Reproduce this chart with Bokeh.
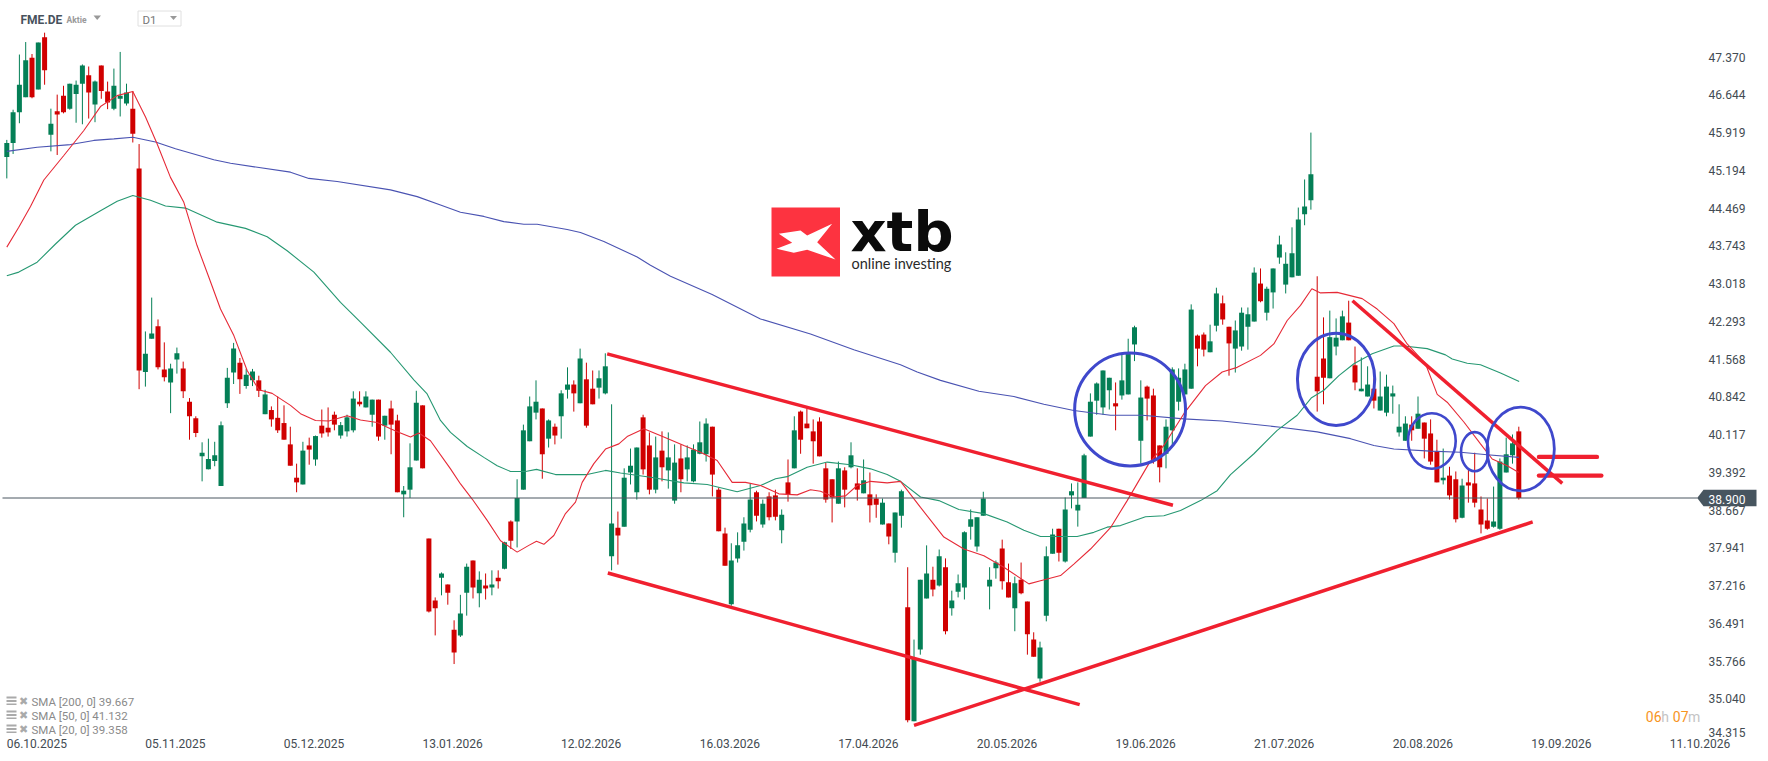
from bokeh.plotting import figure
from bokeh.models import FixedTicker, LinearAxis, NumeralTickFormatter, Range1d
from bokeh.core.properties import value
from bokeh.embed import file_html
from bokeh.resources import INLINE

opens = [45.45,45.72,46.31,46.60,47.36,46.75,47.75,45.88,46.33,46.63,
46.38,46.66,46.86,47.02,46.46,47.21,46.71,46.38,46.57,46.48,
46.38,45.23,41.32,41.96,42.20,41.37,41.12,41.56,41.39,40.75,
40.43,39.70,39.45,39.61,39.13,40.72,41.31,41.50,41.05,41.16,
41.16,40.51,40.59,40.44,40.34,39.93,39.29,39.16,39.91,39.64,
40.29,40.25,40.50,40.10,40.18,40.20,40.75,40.64,40.50,40.79,
40.29,40.62,40.39,38.97,39.06,39.62,40.68,38.12,36.93,37.37,
37.24,36.37,36.26,37.08,37.70,37.07,37.22,37.18,37.37,37.54,
38.45,38.45,39.06,39.99,40.54,40.62,40.04,40.27,40.47,40.98,
41.08,40.72,41.18,41.00,41.02,40.91,37.78,38.33,38.35,39.39,
39.01,40.45,39.91,39.06,39.81,39.43,38.85,39.66,39.45,39.22,
39.75,39.74,40.27,39.06,38.22,36.86,37.74,38.06,38.29,39.01,
38.39,38.93,38.95,38.28,39.20,39.47,40.56,40.33,40.18,40.37,
39.47,39.26,38.79,39.43,39.49,39.18,38.99,38.97,38.89,38.39,
38.41,37.85,38.56,36.80,34.61,35.99,36.97,37.33,37.22,37.57,
36.78,37.10,37.18,38.35,37.97,38.56,37.20,37.55,37.93,37.28,
36.78,37.33,36.91,36.18,35.43,36.64,37.83,38.31,37.68,38.95,
38.66,38.90,40.08,40.77,40.64,40.97,40.72,40.87,40.89,41.85,
40.00,41.04,40.87,39.91,39.75,40.20,40.75,40.89,41.00,42.02,
42.04,41.70,42.21,42.64,42.19,41.77,41.81,42.19,42.29,43.02,
42.46,42.85,43.52,43.00,43.14,43.17,44.35,44.62,41.23,41.58,
41.20,41.81,41.93,42.27,41.45,40.95,40.85,41.00,40.58,40.54,
40.85,40.16,40.00,40.31,40.23,40.35,40.14,39.79,39.24,39.33,
39.26,38.52,39.20,39.18,38.68,38.47,38.35,38.31,39.39,39.72,
40.18]
closes = [45.72,46.31,46.84,47.31,46.60,47.65,47.12,46.09,46.27,46.31,
46.86,46.84,47.21,46.69,46.90,46.72,46.50,46.82,46.63,46.69,
45.90,41.35,41.67,42.06,41.41,41.22,41.39,41.68,40.95,40.47,
40.15,39.77,39.65,39.72,40.30,41.21,41.77,41.18,41.27,41.33,
40.96,40.89,40.41,40.20,40.02,39.52,39.20,39.81,39.83,40.09,
40.14,40.16,40.31,40.30,40.45,40.81,40.70,40.85,40.79,40.08,
40.48,40.31,39.01,39.04,39.49,40.73,39.47,36.72,36.78,37.45,
37.08,35.93,36.68,37.58,37.18,37.33,37.16,37.24,37.30,38.05,
38.08,38.90,40.20,40.66,40.75,39.74,40.39,40.10,40.91,41.08,
40.91,41.58,40.29,40.70,41.20,41.43,38.41,38.18,39.29,39.52,
39.87,39.45,39.06,39.68,39.49,39.68,39.58,39.26,39.68,39.83,
39.97,40.33,39.35,38.26,37.60,37.70,37.99,38.41,38.87,38.56,
38.79,38.53,38.54,38.58,38.97,40.20,40.02,40.24,39.99,39.70,
38.87,38.91,39.47,39.06,39.72,39.06,39.24,38.76,38.77,38.81,
38.16,38.62,39.03,34.63,35.81,37.33,37.45,37.14,37.78,36.34,
36.93,37.26,38.24,38.49,38.53,38.89,37.33,37.66,37.30,36.99,
37.26,37.07,36.28,35.85,36.03,37.78,38.20,37.85,38.68,39.03,
38.77,39.72,40.75,41.10,41.35,41.21,40.66,41.16,41.70,42.18,
40.83,40.81,39.62,39.49,40.27,41.37,41.21,41.37,42.52,41.77,
41.75,41.91,42.83,42.33,41.87,42.12,42.46,42.43,43.23,42.68,
42.92,43.31,43.77,43.40,43.60,44.25,44.50,45.12,40.95,41.21,
41.99,41.98,42.39,41.93,41.12,41.00,41.08,40.77,40.85,41.04,
40.91,40.27,40.33,40.20,40.52,40.04,39.60,39.20,39.29,38.95,
38.49,39.14,39.14,38.81,38.39,38.31,38.45,39.60,39.74,39.95,
38.90]
highs = [45.78,46.36,47.42,47.66,47.43,47.65,47.84,46.38,46.65,46.82,
46.86,46.92,47.23,47.19,46.92,47.21,46.90,47.15,47.47,46.86,
46.72,45.70,42.10,42.75,42.33,41.89,41.48,41.79,41.52,40.82,
40.47,39.97,40.04,39.98,40.37,41.40,41.88,41.59,41.38,41.38,
41.25,40.98,40.66,40.85,40.68,40.27,39.56,39.98,40.06,40.10,
40.60,40.64,40.56,40.36,40.50,40.95,40.95,40.95,40.79,40.79,
40.48,40.77,40.50,39.13,39.95,40.96,40.68,38.12,36.99,37.47,
37.24,36.55,37.04,37.64,37.70,37.49,37.45,37.51,37.51,38.06,
38.47,39.26,40.31,40.85,41.16,40.62,40.41,40.33,40.97,41.41,
41.16,41.77,41.50,41.35,41.35,41.68,40.70,38.64,39.47,39.85,
39.87,40.50,40.16,40.08,40.18,40.16,39.93,39.93,39.91,39.93,
40.37,40.43,40.27,39.10,38.33,38.03,38.24,38.53,39.17,39.04,
38.87,39.01,39.06,38.68,39.64,40.47,40.58,40.62,40.41,40.45,
39.58,39.26,39.60,39.49,39.97,39.47,39.64,39.39,38.97,38.89,
38.41,38.62,39.06,37.57,36.18,37.33,37.99,37.58,37.91,37.74,
37.12,37.43,38.26,38.68,38.53,39.02,37.57,37.70,38.10,37.64,
37.39,37.66,36.91,36.32,36.14,37.97,38.31,38.31,38.91,39.18,
39.20,39.75,40.91,41.12,41.35,41.21,41.12,41.66,41.96,42.21,
41.16,41.06,41.00,39.91,40.41,41.41,41.39,41.48,42.62,42.04,
42.08,42.23,42.94,42.79,42.19,42.31,42.56,42.56,43.33,43.31,
42.96,43.31,43.94,43.62,44.10,44.48,45.02,45.92,43.16,42.37,
42.50,42.35,42.50,42.69,41.81,41.60,41.43,41.20,41.33,41.27,
41.06,40.70,40.47,40.47,40.85,40.35,40.41,40.02,39.85,39.50,
39.41,39.27,39.45,39.77,38.93,38.89,39.12,39.66,40.06,40.12,
40.27]
lows = [45.04,45.51,46.10,46.60,46.58,46.75,46.84,45.56,45.49,46.29,
46.36,46.11,46.08,46.19,46.12,46.57,46.37,46.35,46.23,46.44,
45.73,40.99,41.04,41.96,41.37,41.14,40.53,41.29,40.82,40.02,
40.07,39.22,39.45,39.51,39.13,40.63,41.09,40.90,41.00,41.05,
40.84,40.51,40.27,40.15,40.02,39.52,39.01,39.16,39.54,39.52,
40.06,40.08,40.20,40.04,40.08,40.16,40.66,40.64,40.27,40.00,
40.02,39.74,39.01,38.53,38.90,39.62,39.47,36.70,36.26,37.03,
36.85,35.71,36.23,36.64,36.97,36.80,36.95,37.03,37.16,37.53,
37.92,37.95,39.06,39.99,40.41,39.27,39.87,39.93,40.04,40.81,
40.56,40.72,40.25,40.70,40.81,40.89,37.51,37.62,38.35,39.16,
38.87,39.35,38.97,38.99,39.22,39.08,38.79,39.01,39.22,39.20,
39.74,39.60,38.93,38.26,37.60,36.83,37.66,37.89,38.24,38.45,
38.33,38.47,38.47,38.03,38.83,39.47,39.75,40.24,39.56,39.70,
38.81,38.43,38.79,38.72,39.47,38.85,38.99,38.43,38.52,38.39,
38.01,37.66,38.33,34.59,34.61,35.89,36.97,37.01,37.20,36.28,
36.64,36.99,36.95,38.10,37.87,38.56,36.76,37.35,37.14,36.99,
36.34,37.05,35.89,35.85,35.37,36.53,37.83,37.68,37.66,38.70,
38.35,38.90,40.08,40.50,40.50,40.60,40.20,40.79,40.89,41.53,
39.56,40.39,39.56,39.20,39.47,39.91,40.58,40.89,41.00,41.43,
41.62,41.70,42.10,42.23,41.25,41.31,41.73,41.75,42.29,42.66,
42.31,42.54,43.40,42.83,43.14,43.17,44.14,44.44,40.56,40.70,
41.20,41.64,41.93,41.93,40.97,40.95,40.85,40.62,40.58,40.47,
40.52,40.08,40.00,40.00,40.23,39.66,39.54,39.20,39.16,38.87,
38.43,38.51,38.81,38.72,38.22,38.29,38.33,38.29,39.39,39.56,
38.87]

sma20_x = [0,1.9,3.76,5.88,9.05,12.23,14.87,17.52,20,22.02,23.87,25.98,28.1,30.2,32.07,33.92,36.04,38.15,40,42.12,45.03,46.62,49,51.12,54.03,56.14,58.79,60.9,62.49,64.08,65.4,67.25,70.43,72.02,73.87,76.25,78.37,81.01,82.86,84.08,85.25,86.83,88.68,90.27,91.33,93.18,95.03,97.15,98.47,101.12,104.29,107.47,110.11,112.76,115.14,117.26,119.64,122.55,125.46,127.57,129.16,131.28,133.13,134.98,137.1,139.74,141.86,145.03,148.74,151.91,155.09,158.26,162.23,164.08,167.26,169.37,172.02,175.19,177.84,181.28,183.66,186.83,190.27,192.92,195.3,199,201.12,203.24,205.35,207.15,208.53,211.17,215.14,217.52,220.17,222.28,225.19,227.05,228.63,231.28,233.92,235.78,238.16,240]
sma20_y = [43.72,44.10,44.50,45.01,45.48,45.96,46.42,46.63,46.71,46.22,45.70,45.06,44.58,43.75,43.14,42.53,42.02,41.35,40.98,40.91,40.68,40.52,40.39,40.38,40.48,40.40,40.35,40.23,40.15,40.07,40.15,40.00,39.46,39.17,38.88,38.47,38.08,37.86,37.99,38.07,38.01,38.18,38.60,38.82,39.20,39.56,39.84,39.94,40.08,40.23,40.07,39.91,39.78,39.62,39.20,39.20,39.14,38.98,38.96,39.06,39.03,38.92,38.94,39.14,39.22,39.19,39.22,38.72,38.15,37.92,37.79,37.57,37.25,37.31,37.41,37.63,37.92,38.33,38.85,39.56,39.91,40.52,41.06,41.32,41.41,41.64,41.86,42.31,42.60,42.92,42.84,42.85,42.73,42.53,42.25,41.86,41.48,40.89,40.74,40.36,39.94,39.65,39.52,39.39]
sma50_x = [0,1.91,4.82,7.73,10.9,14.87,17.52,20,22.81,25.19,28.37,33.39,37.89,41.33,44.5,48.74,52.97,56.14,60.9,64.61,66.72,68.84,70.43,73.08,75.72,77.84,79.95,82.33,84.08,87.1,92.12,95.03,97.41,102.18,107.47,111.17,115.93,119.64,122.02,123.87,127.04,130.22,133.92,137.1,139.74,141.86,145.03,147.94,151.12,155.09,158.79,161.44,164.08,169.9,172.55,174.66,176.78,180.75,183.66,186.3,189.48,192.12,194.24,197.95,201.65,204.82,207.04,209.05,211.44,213.82,216.73,220.17,221.75,225.46,228.37,229.43,231.81,233.92,237.1,240.06]
sma50_y = [43.17,43.24,43.43,43.78,44.14,44.42,44.60,44.71,44.62,44.51,44.47,44.20,44.08,43.92,43.65,43.24,42.66,42.28,41.70,41.17,40.90,40.39,40.16,39.89,39.68,39.52,39.41,39.41,39.45,39.35,39.35,39.43,39.38,39.30,39.19,39.16,39.02,39.14,39.27,39.31,39.49,39.59,39.54,39.46,39.35,39.22,38.92,38.85,38.68,38.60,38.44,38.28,38.16,38.16,38.24,38.34,38.37,38.54,38.56,38.66,38.85,39.04,39.35,39.75,40.20,40.49,40.82,40.97,41.25,41.48,41.67,41.82,41.82,41.77,41.65,41.57,41.49,41.46,41.30,41.14]
sma200_x = [0,4.82,10.11,13.81,16.99,20,23.6,26.78,32.86,35.51,45.03,47.94,52.44,60.9,65.14,68.84,72.01,75.72,78.89,82.07,84.18,88.95,91.06,94.77,100.06,102.17,105.35,111.96,119.63,127.57,134.45,141.86,144.51,148.21,154.3,159.85,164.61,169.37,175.19,180.22,186.83,192.92,202.18,208,213.29,217,220.17,225.99,230.75,234.98,240]
sma200_y = [45.56,45.64,45.69,45.77,45.80,45.83,45.74,45.61,45.40,45.33,45.16,45.04,44.98,44.82,44.69,44.53,44.39,44.31,44.21,44.16,44.16,44.06,44.00,43.83,43.53,43.37,43.16,42.81,42.34,42.05,41.75,41.46,41.32,41.16,40.95,40.85,40.70,40.58,40.49,40.49,40.42,40.38,40.26,40.17,40.04,39.91,39.84,39.80,39.78,39.73,39.68]

last_price = 38.900
price_ticks = [47.370,46.644,45.919,45.194,44.469,43.743,43.018,42.293,41.568,40.842,40.117,39.392,38.667,37.941,37.216,36.491,35.766,35.040]
bottom_price_label = "34.315"
date_labels = ["06.10.2025","05.11.2025","05.12.2025","13.01.2026","12.02.2026","16.03.2026","17.04.2026","20.05.2026","19.06.2026","21.07.2026","20.08.2026","19.09.2026","11.10.2026"]
date_index = [0,22,44,66,88,110,132,154,176,198,220,242,264]
legend_texts = ["SMA [200, 0] 39.667","SMA [50, 0] 41.132","SMA [20, 0] 39.358"]

# hand-drawn trend lines: start index, start price, end index, end price
trend_x0 = [95.3,95.4,144.0,213.6]
trend_y0 = [41.67,37.46,34.53,42.69]
trend_x1 = [185.1,170.3,242.2,246.9]
trend_y1 = [38.76,34.93,38.44,39.18]
level_x0 = [243.2,243.2]
level_x1 = [252.4,253.1]
level_y = [39.69,39.33]
circle_x = [178.3,211.0,226.2,233.0,240.3]
circle_y = [40.60,41.18,39.995,39.79,39.84]
circle_w = [17.6,12.27,7.57,4.33,10.68]
circle_h = [2.17,1.77,1.07,0.75,1.61]
circle_lw = [3,3,2.6,2.6,2.8]

GREEN, RED = "#047f56", "#d00000"
FONT = "Roboto"
X0, XS = 6.3, 6.3
PX_PER_UNIT = 52.05
def sx(px): return (px - X0) / XS
def sy(py): return last_price + (497.5 - py) / PX_PER_UNIT

W, H = 1760, 753
AXIS_X, FRAME_B = 1704, 737
p = figure(width=W, height=H, output_backend="svg", toolbar_location=None,
           x_range=Range1d(sx(0), sx(W)), y_range=Range1d(sy(FRAME_B), sy(0)),
           x_axis_location=None, y_axis_location=None,
           min_border_left=0, min_border_top=0, min_border_right=0, min_border_bottom=H-FRAME_B,
           background_fill_color="white", border_fill_color="white", outline_line_color=None)
p.grid.visible = False

idx = list(range(len(opens)))
colors = [GREEN if c >= o else RED for o, c in zip(opens, closes)]
p.segment(idx, lows, idx, highs, line_color=colors, line_width=1)
p.vbar(idx, width=5/XS, bottom=[min(o,c) for o,c in zip(opens,closes)], top=[max(o,c) for o,c in zip(opens,closes)],
       fill_color=colors, line_color=None)

p.line(sma200_x, sma200_y, line_color="#4a53b2", line_width=1.1)
p.line(sma50_x, sma50_y, line_color="#269872", line_width=1.1)
p.line(sma20_x, sma20_y, line_color="#e62a37", line_width=1.1)

p.line([sx(2), sx(1697)], [last_price, last_price], line_color="#4a5660", line_width=1)

p.segment(trend_x0, trend_y0, trend_x1, trend_y1, line_color="#f0202f", line_width=3.5)
p.segment(level_x0, level_y, level_x1, level_y, line_color="#f0202f", line_width=4.4, line_cap="round")
p.ellipse(circle_x, circle_y, width=circle_w, height=circle_h, fill_color=None, line_color="#3f48cc", line_width=circle_lw)

# axes
yax = LinearAxis(ticker=FixedTicker(ticks=price_ticks+[34.40]), formatter=NumeralTickFormatter(format="0.000"),
                 major_label_overrides={34.40: bottom_price_label},
                 major_label_standoff=4, major_tick_in=0, major_tick_out=0, minor_tick_line_color=None,
                 axis_line_color=None, major_tick_line_color=None, fixed_location=sx(AXIS_X),
                 major_label_text_font=FONT, major_label_text_font_size="12px", major_label_text_color="#434b52")
p.add_layout(yax, "right")
LABEL_HALF = 30 / XS
xticks = [d + LABEL_HALF for d in date_index]
xax = LinearAxis(ticker=FixedTicker(ticks=xticks), major_label_overrides=dict(zip(xticks, date_labels)),
                 major_label_standoff=1, major_tick_in=0, major_tick_out=0, minor_tick_line_color=None,
                 axis_line_color=None, major_tick_line_color=None,
                 major_label_text_font=FONT, major_label_text_font_size="12px", major_label_text_color="#434b52")
p.add_layout(xax, "below")

# price tag
p.patch([sx(1696.7),sx(1703),sx(1756),sx(1756),sx(1703)], [sy(497.5),sy(489.3),sy(489.3),sy(505.7),sy(505.7)],
        fill_color="#47555f", line_color=None, level="overlay")
p.text([sx(1708)], [sy(498.7)], text=["38.900"], text_color="white", text_font=value(FONT), text_font_size="12px",
       text_baseline="middle", text_align="left", level="overlay")

# header
def txt(px, py, s, size, color, style="normal", font=FONT, base="middle"):
    p.text([sx(px)], [sy(py)], text=[s], text_font=value(font), text_font_size=size, text_color=color,
           text_font_style=style, text_baseline=base, text_align="left")
txt(20, 19, "FME.DE", "12px", "#47525c", "bold")
txt(66, 19.5, "Aktie", "8.5px", "#999999", "bold")
p.patch([sx(93),sx(100.5),sx(96.7)], [sy(15),sy(15),sy(19.5)], fill_color="#999999", line_color=None)
p.quad(left=[sx(137.5)], right=[sx(180.5)], top=[sy(10.5)], bottom=[sy(25.5)], fill_color=None, line_color="#e0e0e0", line_width=1)
txt(142, 19.5, "D1", "11.5px", "#777777")
p.patch([sx(169.5),sx(176.5),sx(173)], [sy(15.5),sy(15.5),sy(19.5)], fill_color="#999999", line_color=None)

# legend
for ty, s in zip([701.5, 715.5, 729.5], legend_texts):
    txt(31, ty, s, "11.5px", "#8a8a8a")
    txt(18.5, ty-0.5, "\u2716", "11px", "#aaaaaa", font="DejaVu Sans")
    p.quad(left=[sx(6)]*3, right=[sx(16)]*3, top=[sy(ty-5.5), sy(ty-2), sy(ty+1.5)], bottom=[sy(ty-3.5), sy(ty), sy(ty+3)],
           fill_color="#aaaaaa", line_color=None)

# timer
for px, s, col in [(1645.3,"06","#f7941e"),(1660.7,"h","#c4c4c4"),(1672.3,"07","#f7941e"),(1687.5,"m","#c4c4c4")]:
    txt(px, 716, s, "14px", col)

# logo
p.quad(left=[sx(771)], right=[sx(839.5)], top=[sy(207)], bottom=[sy(276)], fill_color="#fd3340", line_color=None)
lx = [85,150,170,245,200,255,170,130,78,125]
ly = [130,120,135,100,155,207,178,187,175,157]
p.patch([sx(750+v/3) for v in lx], [sy(190+v/3) for v in ly], fill_color="white", line_color=None)
txt(850, 231, "xtb", "56px", "#0b0b0b", "bold", font="DejaVu Sans", base="alphabetic")
txt(851, 263, "online investing", "14.5px", "#2a2a2a", font="Lato")

open("out.html", "w").write(file_html(p, INLINE))
